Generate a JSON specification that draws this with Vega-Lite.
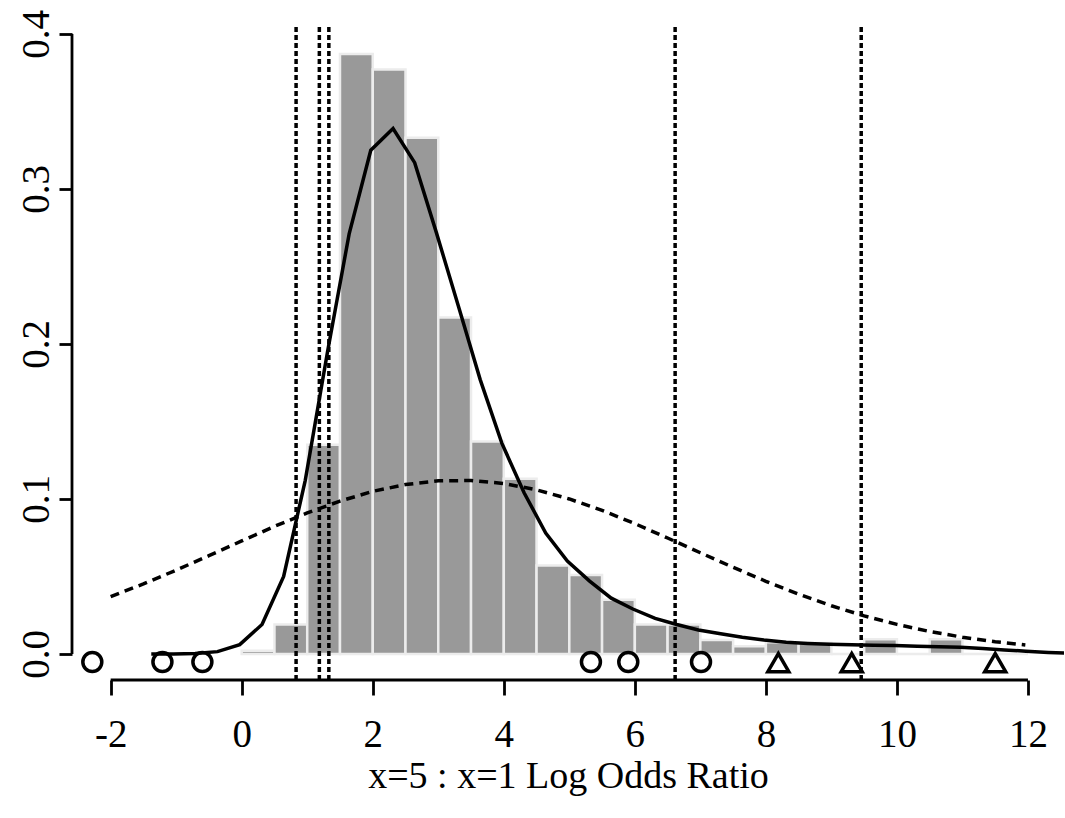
{
  "$schema": "https://vega.github.io/schema/vega-lite/v6.json",
  "autosize": {"type": "none"},
  "width": 992,
  "height": 653,
  "padding": {"left": 72, "top": 27, "right": 1, "bottom": 138},
  "background": "white",
  "config": {
    "view": {"stroke": null},
    "axis": {
      "labelFont": "Liberation Serif", "titleFont": "Liberation Serif",
      "labelColor": "black", "titleColor": "black", "tickColor": "black",
      "labelFontSize": 39, "titleFontSize": 38, "titleFontWeight": "normal",
      "tickWidth": 2.8, "grid": false, "domain": false,
      "labelFlush": false, "labelOverlap": false
    },
    "axisX": {"tickSize": 15, "labelPadding": 20, "titlePadding": 3},
    "axisY": {"tickSize": 13, "labelPadding": 11, "labelAngle": 270, "labelAlign": "center", "labelBaseline": "alphabetic"}
  },
  "datasets": {
    "hist": [
      {"lo": 0.0, "hi": 0.5, "d": 0.002},
      {"lo": 0.5, "hi": 1.0, "d": 0.019},
      {"lo": 1.0, "hi": 1.5, "d": 0.135},
      {"lo": 1.5, "hi": 2.0, "d": 0.387},
      {"lo": 2.0, "hi": 2.5, "d": 0.377},
      {"lo": 2.5, "hi": 3.0, "d": 0.333},
      {"lo": 3.0, "hi": 3.5, "d": 0.217},
      {"lo": 3.5, "hi": 4.0, "d": 0.137},
      {"lo": 4.0, "hi": 4.5, "d": 0.113},
      {"lo": 4.5, "hi": 5.0, "d": 0.057},
      {"lo": 5.0, "hi": 5.5, "d": 0.051},
      {"lo": 5.5, "hi": 6.0, "d": 0.035},
      {"lo": 6.0, "hi": 6.5, "d": 0.019},
      {"lo": 6.5, "hi": 7.0, "d": 0.019},
      {"lo": 7.0, "hi": 7.5, "d": 0.009},
      {"lo": 7.5, "hi": 8.0, "d": 0.005},
      {"lo": 8.0, "hi": 8.5, "d": 0.0075},
      {"lo": 8.5, "hi": 9.0, "d": 0.007},
      {"lo": 9.0, "hi": 9.5, "d": 0.0},
      {"lo": 9.5, "hi": 10.0, "d": 0.0095},
      {"lo": 10.0, "hi": 10.5, "d": 0.0},
      {"lo": 10.5, "hi": 11.0, "d": 0.0095},
      {"lo": 11.0, "hi": 11.5, "d": 0.0},
      {"lo": 11.5, "hi": 12.0, "d": 0.0}
    ],
    "normal": [
      {"x": -2.0, "y": 0.0370}, {"x": -1.5, "y": 0.0452}, {"x": -1.0, "y": 0.0541},
      {"x": -0.5, "y": 0.0634}, {"x": 0.0, "y": 0.0729}, {"x": 0.5, "y": 0.0823},
      {"x": 1.0, "y": 0.0910}, {"x": 1.5, "y": 0.0986}, {"x": 2.0, "y": 0.1049},
      {"x": 2.5, "y": 0.1093}, {"x": 3.0, "y": 0.1117}, {"x": 3.5, "y": 0.1119},
      {"x": 4.0, "y": 0.1100}, {"x": 4.5, "y": 0.1059}, {"x": 5.0, "y": 0.1000},
      {"x": 5.5, "y": 0.0926}, {"x": 6.0, "y": 0.0841}, {"x": 6.5, "y": 0.0748},
      {"x": 7.0, "y": 0.0653}, {"x": 7.5, "y": 0.0559}, {"x": 8.0, "y": 0.0469},
      {"x": 8.5, "y": 0.0386}, {"x": 9.0, "y": 0.0311}, {"x": 9.5, "y": 0.0246},
      {"x": 10.0, "y": 0.0191}, {"x": 10.5, "y": 0.0145}, {"x": 11.0, "y": 0.0108},
      {"x": 11.5, "y": 0.0079}, {"x": 11.96, "y": 0.0058}
    ],
    "dens": [
      {"x": -1.38, "y": 0.0}, {"x": -1.04, "y": 0.0}, {"x": -0.71, "y": 0.0003},
      {"x": -0.37, "y": 0.0015}, {"x": -0.03, "y": 0.006}, {"x": 0.31, "y": 0.019},
      {"x": 0.64, "y": 0.050}, {"x": 0.97, "y": 0.112}, {"x": 1.31, "y": 0.195},
      {"x": 1.64, "y": 0.271}, {"x": 1.97, "y": 0.325}, {"x": 2.31, "y": 0.339},
      {"x": 2.64, "y": 0.317}, {"x": 2.97, "y": 0.272}, {"x": 3.31, "y": 0.224},
      {"x": 3.64, "y": 0.177}, {"x": 3.97, "y": 0.136}, {"x": 4.31, "y": 0.104},
      {"x": 4.64, "y": 0.078}, {"x": 4.97, "y": 0.060}, {"x": 5.31, "y": 0.047},
      {"x": 5.64, "y": 0.036}, {"x": 5.97, "y": 0.029}, {"x": 6.31, "y": 0.023},
      {"x": 6.64, "y": 0.019}, {"x": 6.97, "y": 0.0155}, {"x": 7.31, "y": 0.013},
      {"x": 7.64, "y": 0.0108}, {"x": 7.97, "y": 0.009}, {"x": 8.31, "y": 0.0075},
      {"x": 8.64, "y": 0.0068}, {"x": 8.97, "y": 0.0063}, {"x": 9.31, "y": 0.006},
      {"x": 9.64, "y": 0.0057}, {"x": 9.97, "y": 0.0054}, {"x": 10.31, "y": 0.005},
      {"x": 10.64, "y": 0.0047}, {"x": 10.97, "y": 0.0043}, {"x": 11.31, "y": 0.0036},
      {"x": 11.64, "y": 0.0026}, {"x": 11.97, "y": 0.0018}, {"x": 12.31, "y": 0.001},
      {"x": 12.64, "y": 0.0004}
    ],
    "vlines": [{"x": 0.83}, {"x": 1.185}, {"x": 1.33}, {"x": 6.615}, {"x": 9.455}],
    "pts": [
      {"x": -2.28, "y": -0.0052, "type": "circle"},
      {"x": -1.21, "y": -0.0052, "type": "circle"},
      {"x": -0.60, "y": -0.0052, "type": "circle"},
      {"x": 5.33, "y": -0.0052, "type": "circle"},
      {"x": 5.90, "y": -0.0052, "type": "circle"},
      {"x": 7.01, "y": -0.0052, "type": "circle"},
      {"x": 8.19, "y": -0.0056, "type": "triangle"},
      {"x": 9.31, "y": -0.0056, "type": "triangle"},
      {"x": 11.50, "y": -0.0056, "type": "triangle"}
    ],
    "xaxisline": [{"a": -2, "b": 12, "y": -0.0168}],
    "yaxisline": [{"x": -2.59, "a": 0, "b": 0.4}]
  },
  "layer": [
    {
      "data": {"name": "hist"},
      "mark": {"type": "rect", "color": "#999999", "stroke": "#ececec", "strokeWidth": 2.5},
      "encoding": {
        "x": {"field": "lo", "type": "quantitative",
          "scale": {"domain": [-2.59, 12.55], "nice": false, "zero": false},
          "axis": {"values": [-2, 0, 2, 4, 6, 8, 10, 12], "labelExpr": "datum.value < 0 ? '-' + abs(datum.value) : '' + datum.value", "title": "x=5 : x=1 Log Odds Ratio"}},
        "x2": {"field": "hi"},
        "y": {"field": "d", "type": "quantitative",
          "scale": {"domain": [-0.0168, 0.4045], "nice": false, "zero": false},
          "axis": {"values": [0, 0.1, 0.2, 0.3, 0.4], "format": ".1f", "title": null}},
        "y2": {"datum": 0}
      }
    },
    {
      "data": {"name": "normal"},
      "mark": {"type": "line", "color": "black", "strokeWidth": 3.5, "strokeDash": [9, 6]},
      "encoding": {
        "x": {"field": "x", "type": "quantitative", "axis": {"values": [-2, 0, 2, 4, 6, 8, 10, 12], "labelExpr": "datum.value < 0 ? '-' + abs(datum.value) : '' + datum.value", "title": "x=5 : x=1 Log Odds Ratio"}},
        "y": {"field": "y", "type": "quantitative", "axis": {"values": [0, 0.1, 0.2, 0.3, 0.4], "format": ".1f", "title": null}}
      }
    },
    {
      "data": {"name": "dens"},
      "mark": {"type": "line", "color": "black", "strokeWidth": 3.5, "clip": true},
      "encoding": {
        "x": {"field": "x", "type": "quantitative", "axis": {"values": [-2, 0, 2, 4, 6, 8, 10, 12], "labelExpr": "datum.value < 0 ? '-' + abs(datum.value) : '' + datum.value", "title": "x=5 : x=1 Log Odds Ratio"}},
        "y": {"field": "y", "type": "quantitative", "axis": {"values": [0, 0.1, 0.2, 0.3, 0.4], "format": ".1f", "title": null}}
      }
    },
    {
      "data": {"name": "vlines"},
      "mark": {"type": "rule", "color": "black", "strokeWidth": 3.5, "strokeDash": [5, 3]},
      "encoding": {
        "x": {"field": "x", "type": "quantitative", "axis": {"values": [-2, 0, 2, 4, 6, 8, 10, 12], "labelExpr": "datum.value < 0 ? '-' + abs(datum.value) : '' + datum.value", "title": "x=5 : x=1 Log Odds Ratio"}}
      }
    },
    {
      "data": {"name": "pts"},
      "mark": {"type": "point", "filled": false, "color": "black", "strokeWidth": 3.5, "opacity": 1},
      "encoding": {
        "x": {"field": "x", "type": "quantitative", "axis": {"values": [-2, 0, 2, 4, 6, 8, 10, 12], "labelExpr": "datum.value < 0 ? '-' + abs(datum.value) : '' + datum.value", "title": "x=5 : x=1 Log Odds Ratio"}},
        "y": {"field": "y", "type": "quantitative", "axis": {"values": [0, 0.1, 0.2, 0.3, 0.4], "format": ".1f", "title": null}},
        "shape": {"field": "type", "type": "nominal",
          "scale": {"domain": ["circle", "triangle"], "range": ["circle", "triangle-up"]}, "legend": null},
        "size": {"field": "type", "type": "nominal",
          "scale": {"domain": ["circle", "triangle"], "range": [360, 440]}, "legend": null}
      }
    },
    {
      "data": {"name": "xaxisline"},
      "mark": {"type": "rule", "color": "black", "strokeWidth": 2.8},
      "encoding": {
        "x": {"field": "a", "type": "quantitative", "axis": {"values": [-2, 0, 2, 4, 6, 8, 10, 12], "labelExpr": "datum.value < 0 ? '-' + abs(datum.value) : '' + datum.value", "title": "x=5 : x=1 Log Odds Ratio"}},
        "x2": {"field": "b"},
        "y": {"field": "y", "type": "quantitative", "axis": {"values": [0, 0.1, 0.2, 0.3, 0.4], "format": ".1f", "title": null}}
      }
    },
    {
      "data": {"name": "yaxisline"},
      "mark": {"type": "rule", "color": "black", "strokeWidth": 2.8},
      "encoding": {
        "x": {"field": "x", "type": "quantitative", "axis": {"values": [-2, 0, 2, 4, 6, 8, 10, 12], "labelExpr": "datum.value < 0 ? '-' + abs(datum.value) : '' + datum.value", "title": "x=5 : x=1 Log Odds Ratio"}},
        "y": {"field": "a", "type": "quantitative", "axis": {"values": [0, 0.1, 0.2, 0.3, 0.4], "format": ".1f", "title": null}},
        "y2": {"field": "b"}
      }
    }
  ]
}
